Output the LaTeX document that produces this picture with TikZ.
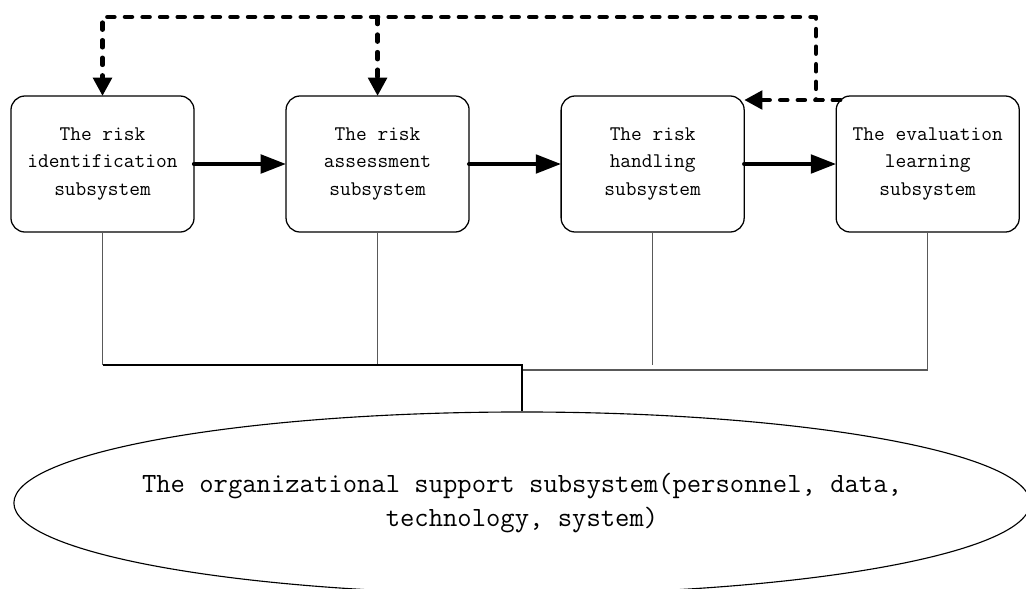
\documentclass[tikz,border=0pt]{standalone}
\usetikzlibrary{positioning,arrows.meta,shapes.geometric}

\tikzset{
  subsys/.style = {shape=rectangle, rounded corners=10pt, draw, line width=0.9pt,
                   minimum width=4.575cm, minimum height=3.4cm, inner sep=0pt,
                   outer sep=0pt, align=center,
                   font=\ttfamily\fontsize{14.8}{19.6}\selectfont},
  base/.style   = {shape=ellipse, draw, line width=0.8pt, inner sep=0pt,
                   minimum width=25.4cm, minimum height=4.55cm},
  basetext/.style = {align=center, inner sep=0pt,
                   font=\ttfamily\fontsize{19.8}{24.5}\selectfont},
  flow/.style   = {line width=3pt, line cap=round,
                   -{Triangle[length=18pt,width=13pt]}},
  feedback/.style = {line width=3.2pt, line cap=round, line join=round,
                   dash pattern=on 5pt off 7.5pt},
  fbarrow/.style  = {-{Triangle[length=13pt,width=13pt]}},
  tie/.style    = {line width=0.75pt, black!65},
  bus/.style    = {line width=0.75pt, black}
}

\begin{document}
\begin{tikzpicture}[x=0.025cm, y=-0.025cm, node distance=2.3cm]
  \useasboundingbox (0,0) rectangle (1026,588);
  \clip (0,0) rectangle (1026,588);

  % the four subsystems in a row
  \node[subsys] (ident) at (102.5,164) {The risk\\identification\\subsystem};
  \node[subsys, right=of ident] (assess) {The risk\\assessment\\subsystem};
  \node[subsys, right=of assess] (handle) {The risk\\handling\\subsystem};
  \node[subsys, right=of handle] (evalu) {The evaluation\\learning\\subsystem};

  % supporting subsystem underneath
  \node[base] (support) at (522,503) {};
  \node[basetext] (supportText) at (support.center)
       {The organizational support subsystem(personnel, data,\\technology, system)};

  % main flow
  \draw[flow] (ident) -- (assess);
  \draw[flow] (assess) -- (handle);
  \draw[flow] (handle) -- (evalu);

  % feedback loop
  \coordinate (fbStart) at (840,100);
  \coordinate (fbTurn) at (816,100);
  \coordinate (fbTop) at (816,17);
  \draw[feedback, fbarrow] (fbStart) -- (handle.north east |- fbStart);
  \draw[feedback, fbarrow] (fbStart) -- (fbTurn) -- (fbTop)
       -- (ident.north |- fbTop) -- (ident.north);
  \draw[feedback, fbarrow] (assess.north |- fbTop) -- (assess.north);

  % ties down to the support subsystem
  \coordinate (busL) at (522,365);
  \coordinate (busR) at (522,370);
  \draw[tie] (ident.south) -- (ident.south |- busL);
  \draw[tie] (assess.south) -- (assess.south |- busL);
  \draw[tie] (handle.south) -- (handle.south |- busL);
  \draw[tie] (evalu.south) |- (busR);
  \draw[bus] (ident.south |- busL) -- (busL) -- (support.north);
\end{tikzpicture}
\end{document}
